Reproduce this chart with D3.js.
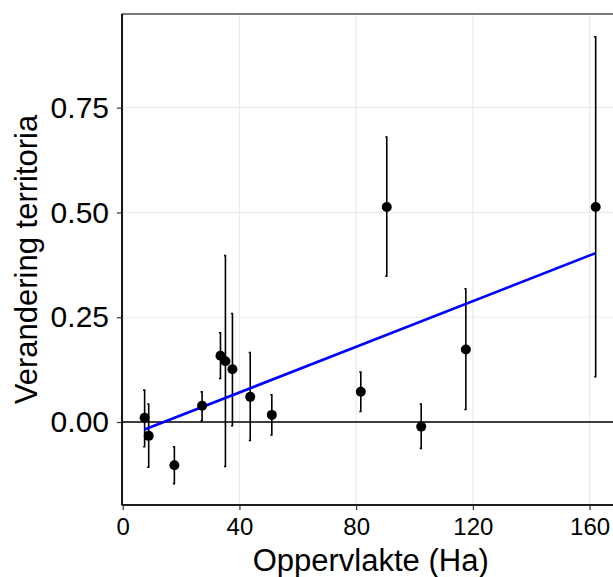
<!DOCTYPE html>
<html>
<head>
<meta charset="utf-8">
<script src="https://cdn.jsdelivr.net/npm/d3@7"></script>
<style>
body { margin:0; background:#fff; }
text { font-family: "Liberation Sans", Arial, sans-serif; }
</style>
</head>
<body>
<script>
var WIDTH = 613, HEIGHT = 577;
var MARGIN = {top:14, left:122, bottom:72, right:-5};

// data
var areas  = [7.5, 8.9, 17.7, 27.2, 33.5, 35.2, 37.6, 43.7, 51.1, 81.6, 90.5, 102.3, 117.6, 162.1];
var change = [0.010, -0.033, -0.103, 0.039, 0.158, 0.145, 0.126, 0.060, 0.017, 0.072, 0.513, -0.011, 0.173, 0.513];
var lower  = [-0.059, -0.108, -0.147, 0.003, 0.104, -0.106, -0.009, -0.044, -0.031, 0.025, 0.348, -0.063, 0.030, 0.108];
var upper  = [0.076, 0.043, -0.059, 0.072, 0.213, 0.397, 0.259, 0.166, 0.065, 0.119, 0.680, 0.043, 0.318, 0.919];
var fitX   = [7.5, 162.1];
var fitY   = [-0.018, 0.403];
var xTicks = [0, 40, 80, 120, 160];
var yTicks = [0, 0.25, 0.5, 0.75];

var data = areas.map(function(a,i){ return {x:a, y:change[i], lo:lower[i], hi:upper[i]}; });

var INNER_WIDTH = WIDTH - MARGIN.left - MARGIN.right;
var INNER_HEIGHT = HEIGHT - MARGIN.top - MARGIN.bottom;

var _xScale = d3.scaleLinear().domain([-0.25, 169.75]).range([0, INNER_WIDTH]);
var _yScale = d3.scaleLinear().domain([-0.198, 0.9735]).range([INNER_HEIGHT, 0]);

var _svg = d3.select('body').append('svg')
    .attr('width', WIDTH)
    .attr('height', HEIGHT);

var g = _svg.append('g')
    .attr('transform', 'translate(' + MARGIN.left + ',' + MARGIN.top + ')');

// grid
g.selectAll('.gx').data(xTicks).enter().append('line')
    .attr('x1', function(d){ return _xScale(d); }).attr('x2', function(d){ return _xScale(d); })
    .attr('y1', 0).attr('y2', INNER_HEIGHT)
    .attr('stroke', '#ebebeb').attr('stroke-width', 1.2);
g.selectAll('.gy').data(yTicks).enter().append('line')
    .attr('y1', function(d){ return _yScale(d); }).attr('y2', function(d){ return _yScale(d); })
    .attr('x1', 0).attr('x2', INNER_WIDTH)
    .attr('stroke', '#ebebeb').attr('stroke-width', 1.2);

// zero line
g.append('line')
    .attr('x1', 0).attr('x2', INNER_WIDTH)
    .attr('y1', _yScale(0)).attr('y2', _yScale(0))
    .attr('stroke', '#000').attr('stroke-width', 1.3);

// error bars
g.selectAll('.err').data(data).enter().append('path')
    .attr('fill', 'none').attr('stroke', '#000').attr('stroke-width', 1.6)
    .attr('d', function(d){
        var x = _xScale(d.x), w = 1.5;
        return 'M' + (x-w) + ',' + _yScale(d.hi) + 'H' + x + 'V' + _yScale(d.lo) + 'H' + (x-w);
    });

// regression line
var line = d3.line()
    .x(function(d){ return _xScale(d[0]); })
    .y(function(d){ return _yScale(d[1]); });
g.append('path')
    .attr('d', line(fitX.map(function(x,i){ return [x, fitY[i]]; })))
    .attr('fill', 'none').attr('stroke', '#0000ff').attr('stroke-width', 2.6);

// points
g.selectAll('circle').data(data).enter().append('circle')
    .attr('r', 5)
    .attr('cx', function(d){ return _xScale(d.x); })
    .attr('cy', function(d){ return _yScale(d.y); })
    .attr('fill', '#000');

// panel border
g.append('rect')
    .attr('x', 0).attr('y', 0).attr('width', INNER_WIDTH).attr('height', INNER_HEIGHT)
    .attr('fill', 'none').attr('stroke', '#333').attr('stroke-width', 1.3);
g.append('line').attr('x1', 0).attr('x2', 0).attr('y1', 0).attr('y2', INNER_HEIGHT)
    .attr('stroke', '#000').attr('stroke-width', 1.6);
g.append('line').attr('x1', 0).attr('x2', INNER_WIDTH).attr('y1', INNER_HEIGHT).attr('y2', INNER_HEIGHT)
    .attr('stroke', '#000').attr('stroke-width', 1.6);

// axes
var xAxis = g.append('g')
    .attr('transform', 'translate(0,' + INNER_HEIGHT + ')')
    .call(d3.axisBottom(_xScale).tickValues(xTicks).tickSize(5).tickPadding(8).tickFormat(d3.format('d')));
var yAxis = g.append('g')
    .call(d3.axisLeft(_yScale).tickValues(yTicks).tickSize(5).tickPadding(8).tickFormat(d3.format('.2f')));

[xAxis, yAxis].forEach(function(a){
    a.select('.domain').remove();
    a.selectAll('.tick line').attr('stroke', '#333').attr('stroke-width', 1.2);
    a.selectAll('.tick text').attr('fill', '#000')
        .style('font-family', '"Liberation Sans", Arial, sans-serif');
});
xAxis.selectAll('.tick text').style('font-size', '24px');
yAxis.selectAll('.tick text').style('font-size', '30px');

// titles
_svg.append('text')
    .attr('x', MARGIN.left + _xScale(85)).attr('y', 571)
    .attr('text-anchor', 'middle')
    .style('font-size', '31px').attr('fill', '#000')
    .text('Oppervlakte (Ha)');
_svg.append('text')
    .attr('transform', 'translate(37,' + (MARGIN.top + INNER_HEIGHT/2) + ') rotate(-90)')
    .attr('text-anchor', 'middle')
    .style('font-size', '31px').attr('fill', '#000')
    .text('Verandering territoria');
</script>
</body>
</html>
